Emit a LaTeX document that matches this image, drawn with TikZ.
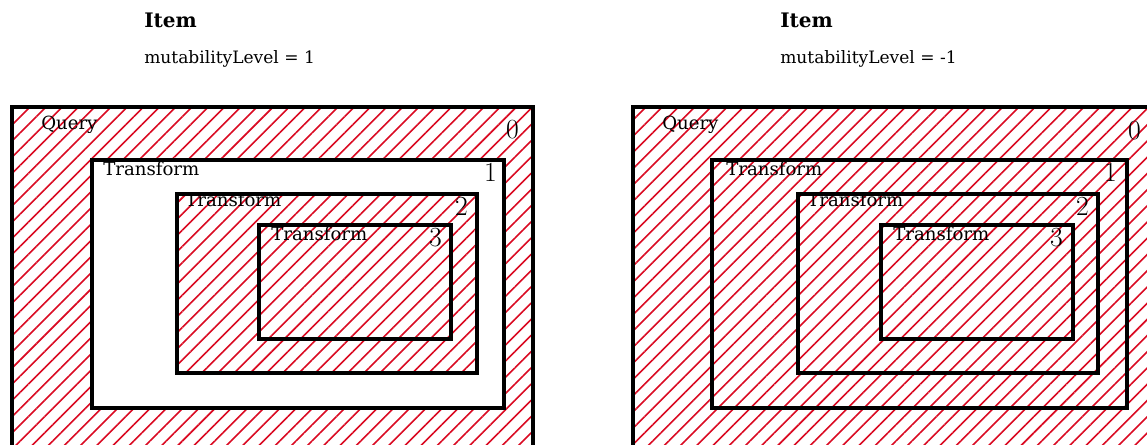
\documentclass[tikz,border=0pt]{standalone}
\usepackage{fontspec}
\setmainfont{DejaVu Serif}
\usetikzlibrary{patterns.meta}

\definecolor{hatchred}{RGB}{218,10,34}

\begin{document}
\begin{tikzpicture}[
    x=0.75pt, y=-0.75pt,
    hatched/.style={pattern={Lines[angle=45, distance=8.6pt, line width=1.2pt]},
                    pattern color=hatchred},
    frame/.style={draw=black, line width=2.8pt},
    blank/.style={fill=white},
    lvl/.style={anchor=base west, inner sep=0pt, font=\fontsize{13.6}{14}\selectfont},
    num/.style={anchor=north east, inner sep=0pt, font=\fontsize{21}{21}\selectfont},
    title/.style={anchor=base west, inner sep=0pt, font=\fontsize{15}{16}\selectfont\bfseries},
    sub/.style={anchor=base west, inner sep=0pt, font=\fontsize{12.8}{14}\selectfont}
]
    \useasboundingbox (0,0) rectangle (1147,445);
    \clip (0,0) rectangle (1147,445);

    % --- Left: mutabilityLevel = 1 ---
    \node[title] (itemA) at (144,28) {Item};
    \node[sub]   (mutA)  at (144,64) {mutabilityLevel = 1};

    \path[hatched]        (12,107)  rectangle (533,470);
    \path[blank]          (92,160)  rectangle (504,408);
    \path[hatched]        (177,194) rectangle (477,373);
    \draw[frame]          (12,107)  rectangle (533,470);
    \draw[frame]          (92,160)  rectangle (504,408);
    \draw[frame]          (177,194) rectangle (477,373);
    \draw[frame]          (259,225) rectangle (451,339);

    \node[lvl] (queryA)  at (41,130)  {Query};
    \node[lvl] (transA1) at (103,176) {Transform};
    \node[lvl] (transA2) at (185,207) {Transform};
    \node[lvl] (transA3) at (271,241) {Transform};

    \node[num] (zeroA)  at (519,120) {$0$};
    \node[num] (oneA)   at (497,163) {$1$};
    \node[num] (twoA)   at (468,197) {$2$};
    \node[num] (threeA) at (442,228) {$3$};

    % --- Right: mutabilityLevel = -1 ---
    \node[title] (itemB) at (780,28) {Item};
    \node[sub]   (mutB)  at (780,64) {mutabilityLevel = -1};

    \path[hatched]        (633,107) rectangle (1154,470);
    \draw[frame]          (633,107) rectangle (1154,470);
    \draw[frame]          (712,160) rectangle (1127,408);
    \draw[frame]          (798,194) rectangle (1098,373);
    \draw[frame]          (881,225) rectangle (1073,339);

    \node[lvl] (queryB)  at (662,130) {Query};
    \node[lvl] (transB1) at (726,176) {Transform};
    \node[lvl] (transB2) at (807,207) {Transform};
    \node[lvl] (transB3) at (893,241) {Transform};

    \node[num] (zeroB)  at (1141,121) {$0$};
    \node[num] (oneB)   at (1117,163) {$1$};
    \node[num] (twoB)   at (1089,197) {$2$};
    \node[num] (threeB) at (1063,228) {$3$};
\end{tikzpicture}
\end{document}
